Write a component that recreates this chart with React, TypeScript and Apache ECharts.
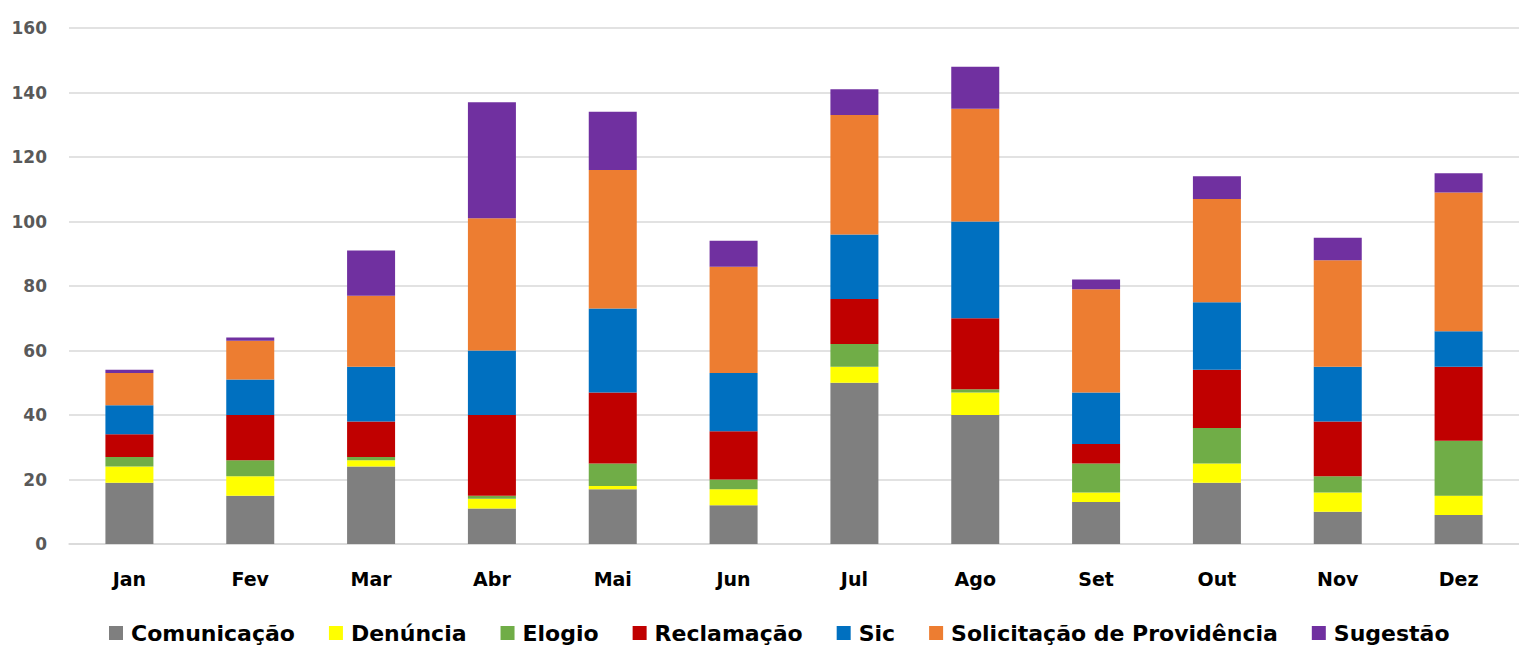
import React, { useEffect, useRef } from "react";
import * as echarts from "echarts";

// Monthly ombudsman requests by type
const months = ["Jan", "Fev", "Mar", "Abr", "Mai", "Jun", "Jul", "Ago", "Set", "Out", "Nov", "Dez"];

const comunicacao = [19, 15, 24, 11, 17, 12, 50, 40, 13, 19, 10, 9];
const denuncia = [5, 6, 2, 3, 1, 5, 5, 7, 3, 6, 6, 6];
const elogio = [3, 5, 1, 1, 7, 3, 7, 1, 9, 11, 5, 17];
const reclamacao = [7, 14, 11, 25, 22, 15, 14, 22, 6, 18, 17, 23];
const sic = [9, 11, 17, 20, 26, 18, 20, 30, 16, 21, 17, 11];
const solicitacao = [10, 12, 22, 41, 43, 33, 37, 35, 32, 32, 33, 43];
const sugestao = [1, 1, 14, 36, 18, 8, 8, 13, 3, 7, 7, 6];

const yTicks = { min: 0, max: 160, interval: 20 };

const seriesDefs = [
  { name: "Comunicação", data: comunicacao, color: "#7F7F7F" },
  { name: "Denúncia", data: denuncia, color: "#FFFF00" },
  { name: "Elogio", data: elogio, color: "#70AD47" },
  { name: "Reclamação", data: reclamacao, color: "#C00000" },
  { name: "Sic", data: sic, color: "#0070C0" },
  { name: "Solicitação de Providência", data: solicitacao, color: "#ED7D31" },
  { name: "Sugestão", data: sugestao, color: "#7030A0" },
];

const FONT = "DejaVu Sans";

export default function App() {
  const ref = useRef<HTMLDivElement>(null);

  useEffect(() => {
    if (!ref.current) return;
    const chart = echarts.init(ref.current, null, { renderer: "svg" });
    chart.setOption({
      animation: false,
      backgroundColor: "#ffffff",
      grid: { left: 69, top: 28, width: 1455, bottom: 106, containLabel: false },
      legend: {
        top: 617,
        left: 104,
        itemWidth: 14,
        itemHeight: 14,
        itemGap: 34,
        icon: "rect",
        textStyle: {
          fontFamily: FONT,
          fontWeight: "bold",
          fontSize: 22,
          color: "#000000",
          padding: [0, 0, 0, 3],
        },
        data: seriesDefs.map((s) => s.name),
      },
      xAxis: {
        type: "category",
        data: months,
        axisLine: { show: true, lineStyle: { color: "#D9D9D9", width: 1.5 } },
        axisTick: { show: false },
        axisLabel: {
          margin: 25,
          fontFamily: FONT,
          fontWeight: "bold",
          fontSize: 19,
          color: "#000000",
        },
      },
      yAxis: {
        type: "value",
        min: yTicks.min,
        max: yTicks.max,
        interval: yTicks.interval,
        axisLine: { show: false },
        axisTick: { show: false },
        splitLine: { lineStyle: { color: "#D9D9D9", width: 1.5 } },
        axisLabel: {
          margin: 22,
          fontFamily: FONT,
          fontWeight: "bold",
          fontSize: 17,
          color: "#595959",
        },
      },
      series: seriesDefs.map((s) => ({
        name: s.name,
        type: "bar",
        stack: "total",
        barWidth: 48,
        data: s.data,
        itemStyle: { color: s.color },
      })),
    });
    return () => chart.dispose();
  }, []);

  return (
    <div
      ref={ref}
      style={{ position: "fixed", left: 0, top: 0, width: 1519, height: 650 }}
    />
  );
}
